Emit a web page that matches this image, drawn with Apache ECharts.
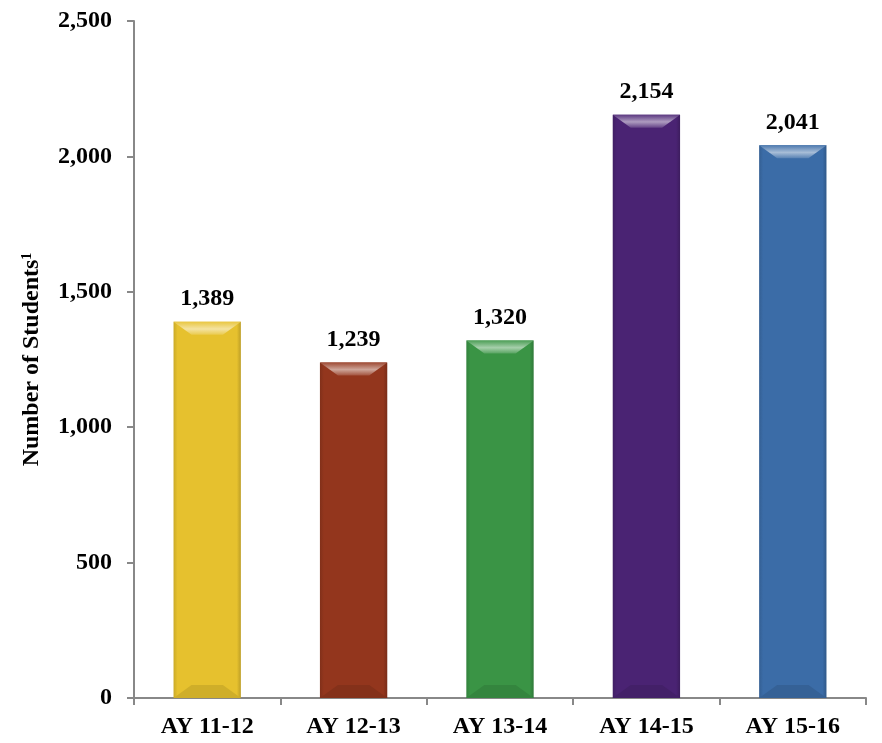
<!DOCTYPE html>
<html><head><meta charset="utf-8">
<script src="https://cdn.jsdelivr.net/npm/echarts@6/dist/echarts.min.js"></script>
<style>html,body{margin:0;padding:0;background:#fff}#c{width:882px;height:743px}</style>
</head><body><div id="c"></div>
<script>
const categories = ['AY 11-12', 'AY 12-13', 'AY 13-14', 'AY 14-15', 'AY 15-16'];
const students = [1389, 1239, 1320, 2154, 2041];
const barColors = ['#E6C12E', '#93361D', '#3A9445', '#4A2373', '#3B6CA7'];
const yTicks = { min: 0, max: 2500, interval: 500 };

const FONT = '"Liberation Serif", "DejaVu Serif", serif';

function shade(hex, f) {
  const n = parseInt(hex.slice(1), 16);
  let r = (n >> 16) & 255, g = (n >> 8) & 255, b = n & 255;
  const m = c => f >= 0 ? Math.round(c + (255 - c) * f) : Math.round(c * (1 + f));
  return 'rgb(' + m(r) + ',' + m(g) + ',' + m(b) + ')';
}

const chart = echarts.init(document.getElementById('c'), null, { renderer: 'canvas' });
chart.setOption({
  animation: false,
  grid: { left: 134, right: 16, top: 21, bottom: 45 },
  xAxis: {
    type: 'category', data: categories,
    axisLine: { lineStyle: { color: '#888', width: 2 } },
    axisTick: { show: true, length: 7, lineStyle: { color: '#888', width: 2 } },
    axisLabel: { color: '#000', fontFamily: FONT, fontWeight: 'bold', fontSize: 24, margin: 17 }
  },
  yAxis: {
    type: 'value', min: yTicks.min, max: yTicks.max, interval: yTicks.interval,
    splitLine: { show: false },
    axisLine: { show: true, lineStyle: { color: '#888', width: 2 } },
    axisTick: { show: true, length: 7, lineStyle: { color: '#888', width: 2 } },
    axisLabel: { color: '#000', fontFamily: FONT, fontWeight: 'bold', fontSize: 24, margin: 22,
      formatter: v => v.toLocaleString('en-US') },
    name: '{a|Number of Students}{s|1}',
    nameLocation: 'middle', nameRotate: 90, nameGap: 90,
    nameTextStyle: {
      rich: {
        a: { fontFamily: FONT, fontWeight: 'bold', fontSize: 24, color: '#000' },
        s: { fontFamily: FONT, fontWeight: 'bold', fontSize: 14, color: '#000', verticalAlign: 'top', padding: [0, 0, 10, 0] }
      }
    }
  },
  series: [
    {
      type: 'bar', barWidth: '46%',
      data: students.map((v, i) => ({
        value: v,
        itemStyle: {
          color: {
            type: 'linear', x: 0, y: 0, x2: 1, y2: 0,
            colorStops: [
              { offset: 0, color: shade(barColors[i], -0.12) },
              { offset: 0.06, color: barColors[i] },
              { offset: 0.94, color: barColors[i] },
              { offset: 1, color: shade(barColors[i], -0.18) }
            ]
          }
        }
      })),
      label: {
        show: true, position: 'top', distance: 11, color: '#000',
        fontFamily: FONT, fontWeight: 'bold', fontSize: 24,
        formatter: p => p.value.toLocaleString('en-US')
      },
      z: 2
    },
    {
      type: 'custom', z: 3, silent: true,
      data: students.map((v, i) => [i, v]),
      renderItem: function (params, api) {
        const idx = api.value(0), v = api.value(1);
        const top = api.coord([idx, v]);
        const bot = api.coord([idx, 0]);
        const w = api.size([1, 0])[0] * 0.46;
        const l = top[0] - w / 2, r = top[0] + w / 2;
        const bh = 13, bw = 18;
        const c = barColors[params.dataIndex];
        return {
          type: 'group',
          children: [
            { type: 'polygon', shape: { points: [[l, top[1]], [r, top[1]], [r - bw, top[1] + bh], [l + bw, top[1] + bh]] },
              style: { fill: { type: 'linear', x: 0, y: 0, x2: 0, y2: 1, colorStops: [
                { offset: 0, color: shade(c, 0.1) }, { offset: 0.55, color: shade(c, 0.55) }, { offset: 1, color: shade(c, 0.15) } ] } } },
            { type: 'polygon', shape: { points: [[l, bot[1]], [r, bot[1]], [r - bw, bot[1] - bh], [l + bw, bot[1] - bh]] },
              style: { fill: shade(c, -0.1) } }
          ]
        };
      }
    }
  ]
});
</script></body></html>
